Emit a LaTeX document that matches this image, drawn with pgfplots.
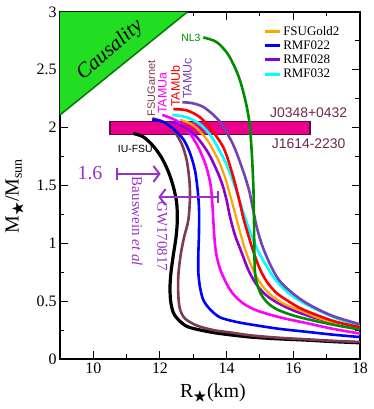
\documentclass[border=0pt]{standalone}
\usepackage{fontspec}
\setmainfont{Liberation Serif}
\setsansfont{Liberation Sans}
\usepackage{amssymb}
\usepackage{pgfplots}
\pgfplotsset{compat=1.18}
\usetikzlibrary{arrows.meta}
\definecolor{cIU}{HTML}{000000}
\definecolor{cGarnet}{HTML}{7E3A50}
\definecolor{cRMF022}{HTML}{0000FF}
\definecolor{cTAMUa}{HTML}{FF00FF}
\definecolor{cRMF028}{HTML}{8C00D4}
\definecolor{cGold2}{HTML}{FFA500}
\definecolor{cRMF032}{HTML}{00FFFF}
\definecolor{cTAMUb}{HTML}{FF0000}
\definecolor{cTAMUc}{HTML}{7442B8}
\definecolor{cNL3}{HTML}{008C00}
\definecolor{cCaus}{HTML}{22DD22}
\definecolor{cCausEdge}{HTML}{007A00}
\definecolor{cBarEdge}{HTML}{5A1040}
\definecolor{cPulsar}{HTML}{6E2850}
\definecolor{cGW}{HTML}{9932CC}

\begin{document}
\begin{tikzpicture}
\begin{axis}[
    scale only axis, width=300bp, height=347bp,
    xmin=9, xmax=18, ymin=0, ymax=3,
    xtick={10,12,14,16,18}, minor x tick num=1,
    ytick={0,0.5,1,1.5,2,2.5,3}, minor y tick num=1,
    major tick length=8bp, minor tick length=4.5bp,
    every tick/.style={black, line width=1bp},
    axis line style={line width=1.2bp},
    tick label style={font=\fontsize{16}{16}\selectfont},
    /pgf/number format/assume math mode=true,
    xlabel={R\textsubscript{$\bigstar$}(km)},
    ylabel={M\textsubscript{$\bigstar$}/M\textsubscript{sun}},
    label style={font=\fontsize{20}{20}\selectfont},
    xlabel style={at={([yshift=-34bp]rel axis cs:0.51,0)}, anchor=center},
    ylabel style={at={([xshift=-45bp]rel axis cs:0,0.47)}, anchor=center},
    legend style={at={(rel axis cs:0.677,0.965)}, anchor=north west,
        draw=none, fill=none, font=\fontsize{13}{13}\selectfont,
        inner sep=0pt, row sep=0bp, cells={anchor=west}},
    legend image code/.code={\draw[#1, line width=3bp] (0bp,0bp) -- (15bp,0bp);},
    every axis plot/.append style={line width=2.6bp},
]
% causality region
\addplot[fill=cCaus, draw=none, forget plot] coordinates {(9,2.11) (12.82,3) (9,3)} -- cycle;
\addplot[cCausEdge, line width=1.5bp, forget plot] coordinates {(9,2.11) (12.82,3)};
% pulsar mass band
\addplot[fill=magenta, draw=cBarEdge, line width=1.2bp, forget plot]
    coordinates {(10.5,1.94) (16.5,1.94) (16.5,2.05) (10.5,2.05)} -- cycle;

% IU-FSU
\addplot[cIU, line width=3.2bp, smooth, forget plot] coordinates {
(11.2,1.95) (11.5,1.92) (11.8,1.84) (12.05,1.74) (12.25,1.62) (12.4,1.49) (12.5,1.35)
(12.52,1.2) (12.48,1.05) (12.4,0.9) (12.33,0.75) (12.3,0.62) (12.32,0.5) (12.4,0.4)
(12.55,0.34) (12.82,0.28) (13.3,0.245) (13.8,0.22) (14.7,0.19) (15.5,0.175) (16.4,0.163)
(17.2,0.15) (18,0.14)};
% FSUGarnet
\addplot[cGarnet, smooth, forget plot] coordinates {
(11.77,2.08) (12.1,2.05) (12.4,1.98) (12.65,1.86) (12.8,1.72) (12.88,1.55) (12.9,1.4)
(12.85,1.2) (12.72,1.05) (12.62,0.9) (12.55,0.72) (12.55,0.55) (12.6,0.43) (12.75,0.35)
(13.1,0.29) (13.6,0.25) (14.1,0.23) (14.7,0.205) (15.5,0.185) (16.4,0.17) (17.2,0.157) (18,0.147)};
% RMF022
\addplot[cRMF022, smooth, forget plot] coordinates {
(11.77,2.07) (12.1,2.05) (12.4,1.99) (12.7,1.9) (12.9,1.78) (13.05,1.63) (13.13,1.46)
(13.17,1.3) (13.17,1.1) (13.15,0.9) (13.15,0.75) (13.2,0.62) (13.3,0.51) (13.5,0.43)
(13.8,0.36) (14.3,0.32) (14.9,0.29) (15.6,0.26) (16.4,0.235) (17.2,0.21) (18,0.19)};
% TAMUa
\addplot[cTAMUa, smooth, forget plot] coordinates {
(12.07,2.11) (12.5,2.06) (12.85,1.97) (13.15,1.83) (13.38,1.67) (13.52,1.5) (13.58,1.3)
(13.62,1.1) (13.68,0.92) (13.8,0.78) (14.0,0.65) (14.2,0.56) (14.5,0.48) (14.9,0.42)
(15.6,0.36) (16.4,0.31) (17.2,0.26) (18,0.22)};
% RMF028
\addplot[cRMF028, smooth, forget plot] coordinates {
(12.3,2.05) (12.7,2.01) (13.1,1.92) (13.45,1.78) (13.72,1.62) (13.88,1.5) (14.0,1.37)
(14.1,1.23) (14.25,1.07) (14.45,0.92) (14.65,0.77) (14.88,0.65) (15.15,0.56) (15.5,0.49)
(16.0,0.42) (16.6,0.36) (17.3,0.31) (18,0.27)};
% FSUGold2
\addplot[cGold2, line width=2.2bp, smooth, forget plot] coordinates {
(12.6,2.07) (13.0,2.02) (13.4,1.9) (13.75,1.72) (13.95,1.57) (14.1,1.42) (14.25,1.26)
(14.4,1.1) (14.55,0.95) (14.75,0.8) (15.0,0.66) (15.3,0.56) (15.7,0.48) (16.2,0.42)
(16.8,0.35) (17.4,0.3) (18,0.265)};
% RMF032
\addplot[cRMF032, smooth, forget plot] coordinates {
(12.37,2.11) (12.8,2.09) (13.2,2.03) (13.55,1.92) (13.9,1.74) (14.15,1.57) (14.35,1.4)
(14.52,1.25) (14.7,1.1) (14.9,0.96) (15.12,0.84) (15.4,0.71) (15.7,0.61) (16.0,0.54)
(16.4,0.47) (16.9,0.4) (17.4,0.34) (18,0.29)};
% TAMUb
\addplot[cTAMUb, smooth, forget plot] coordinates {
(12.4,2.16) (12.8,2.15) (13.2,2.09) (13.55,1.98) (13.9,1.83) (14.1,1.67) (14.25,1.52)
(14.38,1.37) (14.5,1.22) (14.65,1.07) (14.8,0.93) (14.98,0.79) (15.2,0.67) (15.5,0.57)
(15.85,0.5) (16.2,0.44) (16.7,0.38) (17.3,0.32) (18,0.275)};
% TAMUc
\addplot[cTAMUc, smooth, forget plot] coordinates {
(12.67,2.22) (13.0,2.21) (13.35,2.17) (13.8,2.05) (14.2,1.85) (14.5,1.62) (14.68,1.45)
(14.8,1.28) (14.92,1.12) (15.08,0.97) (15.3,0.82) (15.55,0.69) (15.85,0.6) (16.2,0.52)
(16.6,0.45) (17.2,0.37) (18,0.3)};
% NL3
\addplot[cNL3, smooth, forget plot] coordinates {
(13.3,2.78) (13.7,2.74) (14.05,2.63) (14.35,2.45) (14.55,2.25) (14.68,2.05) (14.75,1.8)
(14.8,1.5) (14.82,1.2) (14.83,0.95) (14.85,0.75) (14.92,0.64) (15.05,0.55) (15.25,0.48)
(15.5,0.43) (15.85,0.39) (16.2,0.36) (16.8,0.32) (17.4,0.285) (18,0.255)};

% constraint arrows
\addplot[cGW, line width=2bp, forget plot, {Bar[width=12bp]}-{Straight Barb[length=6bp,width=16bp]}]
    coordinates {(10.68,1.6) (12.02,1.6)};
\addplot[cGW, line width=2bp, forget plot, {Straight Barb[length=6bp,width=16bp]}-{Bar[width=12bp]}]
    coordinates {(11.95,1.4) (13.76,1.4)};

% legend
\addlegendimage{cGold2}\addlegendentry{FSUGold2}
\addlegendimage{cRMF022}\addlegendentry{RMF022}
\addlegendimage{cRMF028}\addlegendentry{RMF028}
\addlegendimage{cRMF032}\addlegendentry{RMF032}

% labels
\node[rotate=41, font=\itshape\fontsize{21}{21}\selectfont] at (axis cs:10.5,2.67) {Causality};
\node[anchor=east, text=cNL3, font=\sffamily\fontsize{10.5}{10.5}\selectfont] at (axis cs:13.32,2.78) {NL3};
\node[font=\sffamily\fontsize{10.5}{10.5}\selectfont] at (axis cs:11.26,1.82) {IU-FSU};
\node[rotate=90, anchor=west, inner sep=1bp, text=cGarnet, font=\sffamily\fontsize{11}{11}\selectfont] at (axis cs:11.74,2.09) {FSUGarnet};
\node[rotate=90, anchor=west, inner sep=1bp, text=cTAMUa, font=\sffamily\fontsize{12.5}{12.5}\selectfont] at (axis cs:12.07,2.11) {TAMUa};
\node[rotate=90, anchor=west, inner sep=1bp, text=cTAMUb, font=\sffamily\fontsize{12.5}{12.5}\selectfont] at (axis cs:12.46,2.17) {TAMUb};
\node[rotate=90, anchor=west, inner sep=1bp, text=cTAMUc, font=\sffamily\fontsize{12.5}{12.5}\selectfont] at (axis cs:12.82,2.24) {TAMUc};
\node[text=cPulsar, font=\sffamily\fontsize{14}{14}\selectfont] at (axis cs:16.46,2.13) {J0348+0432};
\node[text=cPulsar, font=\sffamily\fontsize{14}{14}\selectfont] at (axis cs:16.46,1.86) {J1614-2230};
\node[text=cGW, font=\fontsize{20}{20}\selectfont] at (axis cs:9.9,1.61) {1.6};
\node[rotate=-90, text=cGW, font=\fontsize{15}{15}\selectfont] at (axis cs:11.32,1.19) {Bauswein \textit{et al}};
\node[rotate=-90, text=cGW, font=\fontsize{15}{15}\selectfont] at (axis cs:12.07,1.06) {GW170817};
\end{axis}
\pgfresetboundingbox
\path[use as bounding box] (-60bp,-50bp) rectangle (314bp,359bp);
\end{tikzpicture}
\end{document}
